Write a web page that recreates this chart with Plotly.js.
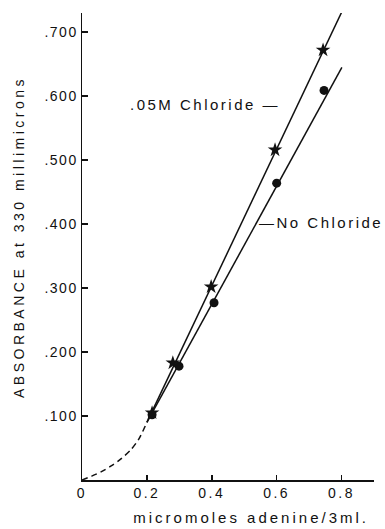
<!DOCTYPE html>
<html>
<head>
<meta charset="utf-8">
<script src="https://cdn.plot.ly/plotly-3.0.1.min.js"></script>
<style>
  html, body { margin: 0; padding: 0; background: #fff; }
  #chart { width: 385px; height: 529px; }
  .ytick text { letter-spacing: 1.5px; }
  .xtick text { letter-spacing: 2.5px; }
  .annotation-text { letter-spacing: 2.5px; }
  .ann-xtitle .annotation-text { letter-spacing: 3px; }
  .ann-ytitle .annotation-text { letter-spacing: 3.5px; }
</style>
</head>
<body>
<div id="chart"></div>
<script>
// Measured points: .05M Chloride (stars)
const chlorideX = [0.216, 0.28, 0.398, 0.595, 0.743];
const chlorideY = [0.105, 0.183, 0.302, 0.516, 0.672];
// Measured points: No Chloride (dots)
const noChlorideX = [0.216, 0.299, 0.407, 0.600, 0.746];
const noChlorideY = [0.102, 0.178, 0.277, 0.464, 0.609];
// Drawn straight lines
const chlorideLineX = [0.2, 0.8];
const chlorideLineY = [0.09, 0.731];
const noChlorideLineX = [0.2, 0.801];
const noChlorideLineY = [0.09, 0.645];
// Dashed extrapolation toward origin
const curveX = [0, 0.03, 0.06, 0.09, 0.12, 0.15, 0.175, 0.2];
const curveY = [0, 0.006, 0.013, 0.022, 0.033, 0.047, 0.064, 0.09];
// Tick labels
const xTickVals = [0, 0.2, 0.4, 0.6, 0.8, 0.9];
const xTickText = ['0', '0.2', '0.4', '0.6', '0.8', ''];
const yTickVals = [0.1, 0.2, 0.3, 0.4, 0.5, 0.6, 0.7];
const yTickText = ['.100', '.200', '.300', '.400', '.500', '.600', '.700'];

const FONT = 'Liberation Sans, Arial, sans-serif';
const INK = '#111';

const traces = [
  { x: curveX, y: curveY, mode: 'lines', line: { color: INK, width: 1.5, dash: '6px,4px', shape: 'spline', smoothing: 0.8 }, hoverinfo: 'skip' },
  { x: chlorideLineX, y: chlorideLineY, mode: 'lines', line: { color: INK, width: 1.5 } },
  { x: noChlorideLineX, y: noChlorideLineY, mode: 'lines', line: { color: INK, width: 1.5 } },
  { x: chlorideX, y: chlorideY, mode: 'markers', marker: { symbol: 'star', size: 11, color: INK } },
  { x: noChlorideX, y: noChlorideY, mode: 'markers', marker: { symbol: 'circle', size: 9, color: INK } }
];

const layout = {
  width: 385, height: 529,
  margin: { l: 82, r: 11, t: 13, b: 49 },
  paper_bgcolor: '#fff', plot_bgcolor: '#fff',
  showlegend: false,
  font: { family: FONT, color: INK, size: 14 },
  xaxis: {
    range: [0, 0.9], showgrid: false, zeroline: false,
    showline: true, linecolor: INK, linewidth: 1.5,
    ticks: 'inside', ticklen: 5, tickwidth: 1.5, tickcolor: INK,
    tickvals: xTickVals, ticktext: xTickText,
    tickfont: { family: FONT, size: 14, color: INK }
  },
  yaxis: {
    range: [0, 0.73], showgrid: false, zeroline: false,
    showline: true, linecolor: INK, linewidth: 1.5,
    ticks: 'inside', ticklen: 6, tickwidth: 1.5, tickcolor: INK,
    tickvals: yTickVals, ticktext: yTickText,
    tickfont: { family: FONT, size: 14, color: INK }
  },
  annotations: [
    { xref: 'x', yref: 'y', x: 0.142, y: 0.5875, xanchor: 'left', yanchor: 'middle',
      text: '.05M Chloride —', showarrow: false, font: { family: FONT, size: 15, color: INK } },
    { xref: 'x', yref: 'y', x: 0.540, y: 0.403, xanchor: 'left', yanchor: 'middle',
      text: '—No Chloride', showarrow: false, font: { family: FONT, size: 15, color: INK } },
    { xref: 'paper', yref: 'paper', x: (251 - 82) / 292, y: -(517 - 480) / 467, xanchor: 'center', yanchor: 'middle',
      text: 'micromoles adenine/3ml.', showarrow: false, font: { family: FONT, size: 15, color: INK } },
    { xref: 'paper', yref: 'paper', x: -(82 - 19) / 292, y: (480 - 237) / 467, xanchor: 'center', yanchor: 'middle',
      textangle: -90, text: 'ABSORBANCE at 330 millimicrons', showarrow: false,
      font: { family: FONT, size: 14, color: INK } }
  ]
};

Plotly.newPlot('chart', traces, layout, { staticPlot: true, displayModeBar: false }).then(() => {
  const anns = document.querySelectorAll('.annotation');
  if (anns.length >= 4) {
    anns[2].classList.add('ann-xtitle');
    anns[3].classList.add('ann-ytitle');
  }
});
</script>
</body>
</html>
